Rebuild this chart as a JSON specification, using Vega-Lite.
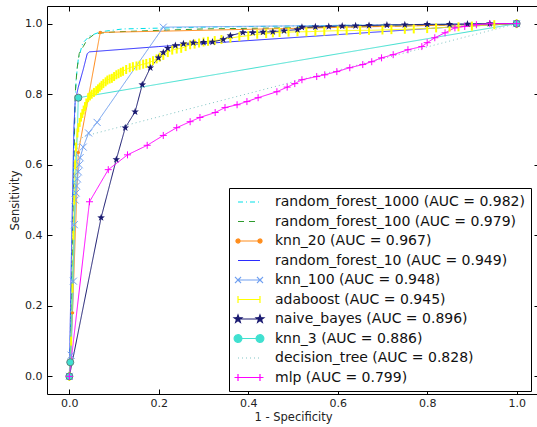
{
"$schema":"https://vega.github.io/schema/vega-lite/v6.json",
"width":492,"height":388,
"autosize":{"type":"none"},
"padding":{"left":47,"top":6,"right":0,"bottom":33},
"background":"white",
"config":{"view":{"stroke":null},"font":"DejaVu Sans",
 "axis":{"grid":false,"domainColor":"#000","tickColor":"#000","tickSize":-5,"labelFont":"DejaVu Sans","labelFontSize":11,"labelColor":"#222","titleFont":"DejaVu Sans","titleFontSize":11.5,"titleFontWeight":"normal","titleColor":"#222"},
 "legend":{"orient":"none","legendX":182,"legendY":182,"strokeColor":"black","fillColor":"white","padding":6,"labelFont":"DejaVu Sans","labelFontSize":14,"labelColor":"#111","labelLimit":0,"symbolSize":196,"symbolStrokeWidth":1.2,"rowPadding":4.5,"labelOffset":18,"symbolOffset":6,"symbolType":"M-1.57,0L1.57,0"}
},
"data":{"values":[
{"m":"rf1000","x":0,"y":0,"i":0},{"m":"rf1000","x":0.002,"y":0.1,"i":1},{"m":"rf1000","x":0.005,"y":0.3,"i":2},{"m":"rf1000","x":0.008,"y":0.5,"i":3},{"m":"rf1000","x":0.01,"y":0.65,"i":4},{"m":"rf1000","x":0.012,"y":0.75,"i":5},{"m":"rf1000","x":0.015,"y":0.84,"i":6},{"m":"rf1000","x":0.02,"y":0.9,"i":7},{"m":"rf1000","x":0.03,"y":0.945,"i":8},{"m":"rf1000","x":0.045,"y":0.965,"i":9},{"m":"rf1000","x":0.07,"y":0.977,"i":10},{"m":"rf1000","x":0.12,"y":0.985,"i":11},{"m":"rf1000","x":0.3,"y":0.99,"i":12},{"m":"rf1000","x":0.6,"y":0.995,"i":13},{"m":"rf1000","x":1,"y":1,"i":14},
{"m":"rf100","x":0,"y":0,"i":0},{"m":"rf100","x":0.003,"y":0.1,"i":1},{"m":"rf100","x":0.006,"y":0.3,"i":2},{"m":"rf100","x":0.009,"y":0.5,"i":3},{"m":"rf100","x":0.011,"y":0.65,"i":4},{"m":"rf100","x":0.013,"y":0.8,"i":5},{"m":"rf100","x":0.017,"y":0.87,"i":6},{"m":"rf100","x":0.022,"y":0.915,"i":7},{"m":"rf100","x":0.031,"y":0.935,"i":8},{"m":"rf100","x":0.04,"y":0.955,"i":9},{"m":"rf100","x":0.058,"y":0.972,"i":10},{"m":"rf100","x":0.107,"y":0.977,"i":11},{"m":"rf100","x":0.3,"y":0.985,"i":12},{"m":"rf100","x":0.6,"y":0.99,"i":13},{"m":"rf100","x":1,"y":1,"i":14},
{"m":"knn20","x":0,"y":0,"i":0},{"m":"knn20","x":0.007,"y":0.18,"i":1},{"m":"knn20","x":0.02,"y":0.635,"i":2},{"m":"knn20","x":0.069,"y":0.975,"i":3},{"m":"knn20","x":1,"y":1,"i":4},
{"m":"rf10","x":0,"y":0,"i":0},{"m":"rf10","x":0.004,"y":0.3,"i":1},{"m":"rf10","x":0.007,"y":0.5,"i":2},{"m":"rf10","x":0.01,"y":0.7,"i":3},{"m":"rf10","x":0.013,"y":0.78,"i":4},{"m":"rf10","x":0.02,"y":0.82,"i":5},{"m":"rf10","x":0.031,"y":0.87,"i":6},{"m":"rf10","x":0.04,"y":0.915,"i":7},{"m":"rf10","x":0.045,"y":0.92,"i":8},{"m":"rf10","x":0.2,"y":0.935,"i":9},{"m":"rf10","x":0.85,"y":0.99,"i":10},{"m":"rf10","x":1,"y":1,"i":11},
{"m":"knn100","x":0,"y":0,"i":0},{"m":"knn100","x":0.004,"y":0.06,"i":1},{"m":"knn100","x":0.009,"y":0.27,"i":2},{"m":"knn100","x":0.011,"y":0.43,"i":3},{"m":"knn100","x":0.013,"y":0.5,"i":4},{"m":"knn100","x":0.015,"y":0.52,"i":5},{"m":"knn100","x":0.016,"y":0.54,"i":6},{"m":"knn100","x":0.018,"y":0.56,"i":7},{"m":"knn100","x":0.02,"y":0.58,"i":8},{"m":"knn100","x":0.022,"y":0.6,"i":9},{"m":"knn100","x":0.024,"y":0.62,"i":10},{"m":"knn100","x":0.031,"y":0.65,"i":11},{"m":"knn100","x":0.043,"y":0.69,"i":12},{"m":"knn100","x":0.062,"y":0.72,"i":13},{"m":"knn100","x":0.21,"y":0.99,"i":14},{"m":"knn100","x":1,"y":1,"i":15},
{"m":"ada","x":0,"y":0,"i":0},{"m":"ada","x":0.004,"y":0.1,"i":1},{"m":"ada","x":0.007,"y":0.25,"i":2},{"m":"ada","x":0.009,"y":0.4,"i":3},{"m":"ada","x":0.011,"y":0.5,"i":4},{"m":"ada","x":0.013,"y":0.6,"i":5},{"m":"ada","x":0.015,"y":0.65,"i":6},{"m":"ada","x":0.018,"y":0.69,"i":7},{"m":"ada","x":0.02,"y":0.705,"i":8},{"m":"ada","x":0.023,"y":0.72,"i":9},{"m":"ada","x":0.026,"y":0.735,"i":10},{"m":"ada","x":0.029,"y":0.745,"i":11},{"m":"ada","x":0.032,"y":0.755,"i":12},{"m":"ada","x":0.035,"y":0.765,"i":13},{"m":"ada","x":0.038,"y":0.775,"i":14},{"m":"ada","x":0.042,"y":0.79,"i":15},{"m":"ada","x":0.046,"y":0.795,"i":16},{"m":"ada","x":0.05,"y":0.8,"i":17},{"m":"ada","x":0.055,"y":0.805,"i":18},{"m":"ada","x":0.06,"y":0.81,"i":19},{"m":"ada","x":0.064,"y":0.815,"i":20},{"m":"ada","x":0.068,"y":0.82,"i":21},{"m":"ada","x":0.072,"y":0.825,"i":22},{"m":"ada","x":0.076,"y":0.83,"i":23},{"m":"ada","x":0.081,"y":0.835,"i":24},{"m":"ada","x":0.085,"y":0.84,"i":25},{"m":"ada","x":0.09,"y":0.843,"i":26},{"m":"ada","x":0.095,"y":0.845,"i":27},{"m":"ada","x":0.1,"y":0.85,"i":28},{"m":"ada","x":0.105,"y":0.855,"i":29},{"m":"ada","x":0.11,"y":0.858,"i":30},{"m":"ada","x":0.115,"y":0.862,"i":31},{"m":"ada","x":0.12,"y":0.865,"i":32},{"m":"ada","x":0.127,"y":0.87,"i":33},{"m":"ada","x":0.135,"y":0.875,"i":34},{"m":"ada","x":0.142,"y":0.878,"i":35},{"m":"ada","x":0.15,"y":0.88,"i":36},{"m":"ada","x":0.157,"y":0.882,"i":37},{"m":"ada","x":0.165,"y":0.885,"i":38},{"m":"ada","x":0.172,"y":0.887,"i":39},{"m":"ada","x":0.18,"y":0.89,"i":40},{"m":"ada","x":0.187,"y":0.895,"i":41},{"m":"ada","x":0.195,"y":0.9,"i":42},{"m":"ada","x":0.202,"y":0.905,"i":43},{"m":"ada","x":0.21,"y":0.91,"i":44},{"m":"ada","x":0.22,"y":0.918,"i":45},{"m":"ada","x":0.23,"y":0.925,"i":46},{"m":"ada","x":0.24,"y":0.928,"i":47},{"m":"ada","x":0.25,"y":0.93,"i":48},{"m":"ada","x":0.26,"y":0.935,"i":49},{"m":"ada","x":0.27,"y":0.94,"i":50},{"m":"ada","x":0.28,"y":0.942,"i":51},{"m":"ada","x":0.29,"y":0.945,"i":52},{"m":"ada","x":0.3,"y":0.948,"i":53},{"m":"ada","x":0.31,"y":0.95,"i":54},{"m":"ada","x":0.325,"y":0.952,"i":55},{"m":"ada","x":0.34,"y":0.955,"i":56},{"m":"ada","x":0.36,"y":0.959,"i":57},{"m":"ada","x":0.38,"y":0.963,"i":58},{"m":"ada","x":0.4,"y":0.966,"i":59},{"m":"ada","x":0.42,"y":0.97,"i":60},{"m":"ada","x":0.44,"y":0.972,"i":61},{"m":"ada","x":0.455,"y":0.974,"i":62},{"m":"ada","x":0.47,"y":0.975,"i":63},{"m":"ada","x":0.49,"y":0.976,"i":64},{"m":"ada","x":0.51,"y":0.977,"i":65},{"m":"ada","x":0.53,"y":0.977,"i":66},{"m":"ada","x":0.55,"y":0.978,"i":67},{"m":"ada","x":0.57,"y":0.979,"i":68},{"m":"ada","x":0.6,"y":0.98,"i":69},{"m":"ada","x":0.62,"y":0.98,"i":70},{"m":"ada","x":0.65,"y":0.981,"i":71},{"m":"ada","x":0.67,"y":0.981,"i":72},{"m":"ada","x":0.7,"y":0.982,"i":73},{"m":"ada","x":0.72,"y":0.983,"i":74},{"m":"ada","x":0.75,"y":0.984,"i":75},{"m":"ada","x":0.77,"y":0.985,"i":76},{"m":"ada","x":0.8,"y":0.986,"i":77},{"m":"ada","x":0.82,"y":0.988,"i":78},{"m":"ada","x":0.85,"y":0.99,"i":79},{"m":"ada","x":0.87,"y":0.991,"i":80},{"m":"ada","x":0.9,"y":0.993,"i":81},{"m":"ada","x":0.95,"y":0.997,"i":82},{"m":"ada","x":1,"y":1,"i":83},
{"m":"nb","x":0,"y":0,"i":0},{"m":"nb","x":0.071,"y":0.45,"i":1},{"m":"nb","x":0.105,"y":0.615,"i":2},{"m":"nb","x":0.125,"y":0.705,"i":3},{"m":"nb","x":0.147,"y":0.75,"i":4},{"m":"nb","x":0.163,"y":0.827,"i":5},{"m":"nb","x":0.181,"y":0.875,"i":6},{"m":"nb","x":0.199,"y":0.903,"i":7},{"m":"nb","x":0.21,"y":0.918,"i":8},{"m":"nb","x":0.22,"y":0.93,"i":9},{"m":"nb","x":0.237,"y":0.938,"i":10},{"m":"nb","x":0.255,"y":0.943,"i":11},{"m":"nb","x":0.277,"y":0.946,"i":12},{"m":"nb","x":0.3,"y":0.947,"i":13},{"m":"nb","x":0.32,"y":0.948,"i":14},{"m":"nb","x":0.344,"y":0.955,"i":15},{"m":"nb","x":0.36,"y":0.966,"i":16},{"m":"nb","x":0.388,"y":0.975,"i":17},{"m":"nb","x":0.41,"y":0.975,"i":18},{"m":"nb","x":0.433,"y":0.976,"i":19},{"m":"nb","x":0.455,"y":0.977,"i":20},{"m":"nb","x":0.48,"y":0.98,"i":21},{"m":"nb","x":0.51,"y":0.983,"i":22},{"m":"nb","x":0.52,"y":0.99,"i":23},{"m":"nb","x":0.55,"y":0.991,"i":24},{"m":"nb","x":0.58,"y":0.992,"i":25},{"m":"nb","x":0.61,"y":0.993,"i":26},{"m":"nb","x":0.64,"y":0.994,"i":27},{"m":"nb","x":0.67,"y":0.995,"i":28},{"m":"nb","x":0.71,"y":0.996,"i":29},{"m":"nb","x":0.75,"y":0.997,"i":30},{"m":"nb","x":0.8,"y":0.998,"i":31},{"m":"nb","x":0.85,"y":0.998,"i":32},{"m":"nb","x":0.89,"y":0.999,"i":33},{"m":"nb","x":0.94,"y":1,"i":34},{"m":"nb","x":1,"y":1,"i":35},
{"m":"knn3","x":0,"y":0,"i":0},{"m":"knn3","x":0.002,"y":0.04,"i":1},{"m":"knn3","x":0.02,"y":0.79,"i":2},{"m":"knn3","x":1,"y":1,"i":3},
{"m":"dt","x":0,"y":0,"i":0},{"m":"dt","x":0.003,"y":0.2,"i":1},{"m":"dt","x":0.006,"y":0.4,"i":2},{"m":"dt","x":0.01,"y":0.6,"i":3},{"m":"dt","x":0.02,"y":0.66,"i":4},{"m":"dt","x":0.031,"y":0.68,"i":5},{"m":"dt","x":1,"y":1,"i":6},
{"m":"mlp","x":0,"y":0,"i":0},{"m":"mlp","x":0.045,"y":0.495,"i":1},{"m":"mlp","x":0.087,"y":0.586,"i":2},{"m":"mlp","x":0.13,"y":0.628,"i":3},{"m":"mlp","x":0.174,"y":0.655,"i":4},{"m":"mlp","x":0.21,"y":0.683,"i":5},{"m":"mlp","x":0.24,"y":0.705,"i":6},{"m":"mlp","x":0.27,"y":0.722,"i":7},{"m":"mlp","x":0.292,"y":0.734,"i":8},{"m":"mlp","x":0.326,"y":0.748,"i":9},{"m":"mlp","x":0.348,"y":0.762,"i":10},{"m":"mlp","x":0.375,"y":0.77,"i":11},{"m":"mlp","x":0.397,"y":0.779,"i":12},{"m":"mlp","x":0.422,"y":0.79,"i":13},{"m":"mlp","x":0.464,"y":0.807,"i":14},{"m":"mlp","x":0.487,"y":0.82,"i":15},{"m":"mlp","x":0.504,"y":0.83,"i":16},{"m":"mlp","x":0.52,"y":0.841,"i":17},{"m":"mlp","x":0.553,"y":0.85,"i":18},{"m":"mlp","x":0.571,"y":0.855,"i":19},{"m":"mlp","x":0.598,"y":0.864,"i":20},{"m":"mlp","x":0.627,"y":0.875,"i":21},{"m":"mlp","x":0.656,"y":0.884,"i":22},{"m":"mlp","x":0.676,"y":0.892,"i":23},{"m":"mlp","x":0.698,"y":0.903,"i":24},{"m":"mlp","x":0.724,"y":0.912,"i":25},{"m":"mlp","x":0.757,"y":0.926,"i":26},{"m":"mlp","x":0.788,"y":0.935,"i":27},{"m":"mlp","x":0.8,"y":0.946,"i":28},{"m":"mlp","x":0.817,"y":0.96,"i":29},{"m":"mlp","x":0.84,"y":0.974,"i":30},{"m":"mlp","x":0.862,"y":0.988,"i":31},{"m":"mlp","x":0.884,"y":0.992,"i":32},{"m":"mlp","x":0.91,"y":0.997,"i":33},{"m":"mlp","x":0.94,"y":1,"i":34},{"m":"mlp","x":1,"y":1,"i":35}
]},
"layer":[
{"mark":{"type":"line","strokeWidth":1},
 "encoding":{
  "x":{"field":"x","type":"quantitative","scale":{"domain":[-0.05,1.05],"nice":false,"zero":false},"axis":{"title":"1 - Specificity","values":[0,0.2,0.4,0.6,0.8,1],"format":".1f","labelPadding":8,"titlePadding":3}},
  "y":{"field":"y","type":"quantitative","scale":{"domain":[-0.05,1.05],"nice":false,"zero":false},"axis":{"title":"Sensitivity","values":[0,0.2,0.4,0.6,0.8,1],"format":".1f","labelPadding":10,"titlePadding":4}},
  "color":{"field":"m","type":"nominal","scale":{"domain":["rf1000","rf100","knn20","rf10","knn100","ada","nb","knn3","dt","mlp"],"range":["#00e0e8","#2e9b2e","#ff8c1a","#2b2bff","#6f9ff0","#ffff00","#191970","#40e0d0","#80c4c4","#ff00ff"]},
   "legend":{"title":null,
    "labelExpr":"['random_forest_1000 (AUC = 0.982)','random_forest_100 (AUC = 0.979)','knn_20 (AUC = 0.967)','random_forest_10 (AUC = 0.949)','knn_100 (AUC = 0.948)','adaboost (AUC = 0.945)','naive_bayes (AUC = 0.896)','knn_3 (AUC = 0.886)','decision_tree (AUC = 0.828)','mlp (AUC = 0.799)'][datum.index]",
    "encode":{"symbols":{"update":{
     "size":{"value":196},
     "shape":{"signal":"['M-1.57,0L1.57,0','M-1.57,0L1.57,0','M-1.57,0L1.57,0M-1.28,0A0.29,0.29 0 1,1 -1.86,0A0.29,0.29 0 1,1 -1.28,0ZM1.86,0A0.29,0.29 0 1,1 1.28,0A0.29,0.29 0 1,1 1.86,0Z','M-1.57,0L1.57,0','M-1.57,0L1.57,0M-2.0,-0.43L-1.14,0.43M-2.0,0.43L-1.14,-0.43M1.14,-0.43L2.0,0.43M1.14,0.43L2.0,-0.43','M-1.57,0L1.57,0M-1.57,-0.5L-1.57,0.5M1.57,-0.5L1.57,0.5','M-1.57,0L1.57,0M-1.57,-0.57L-1.435,-0.186L-1.028,-0.176L-1.351,0.071L-1.235,0.461L-1.57,0.23L-1.905,0.461L-1.789,0.071L-2.112,-0.176L-1.705,-0.186ZM1.57,-0.57L1.705,-0.186L2.112,-0.176L1.789,0.071L1.905,0.461L1.57,0.23L1.235,0.461L1.351,0.071L1.028,-0.176L1.435,-0.186Z','M-1.57,0L1.57,0M-1.02,0A0.55,0.55 0 1,1 -2.12,0A0.55,0.55 0 1,1 -1.02,0ZM2.12,0A0.55,0.55 0 1,1 1.02,0A0.55,0.55 0 1,1 2.12,0Z','M-1.57,0L1.57,0','M-2.07,0L2.07,0M-1.57,-0.5L-1.57,0.5M1.57,-0.5L1.57,0.5'][datum.index]"},
     "fill":{"signal":"['transparent','transparent','#ff8c1a','transparent','transparent','transparent','#191970','#40e0d0','transparent','transparent'][datum.index]"}
    }}}}},
  "strokeDash":{"field":"m","type":"nominal","scale":{"domain":["rf1000","rf100","knn20","rf10","knn100","ada","nb","knn3","dt","mlp"],"range":[[5,3,1,3],[6,5],[1,0],[1,0],[1,0],[1,0],[1,0],[1,0],[1,3],[1,0]]},"legend":{"title":null}},
  "order":{"field":"i","type":"quantitative"}
 }},
{"transform":[{"filter":"datum.m==='knn20'"}],"mark":{"type":"point","filled":true,"size":12,"color":"#ff8c1a","opacity":1},
 "encoding":{"x":{"field":"x","type":"quantitative","axis":null},"y":{"field":"y","type":"quantitative","axis":null}}},
{"transform":[{"filter":"datum.m==='knn100'"}],"mark":{"type":"point","filled":false,"size":49,"shape":"M-1,-1L1,1M-1,1L1,-1","stroke":"#6f9ff0","strokeWidth":1,"opacity":1},
 "encoding":{"x":{"field":"x","type":"quantitative","axis":null},"y":{"field":"y","type":"quantitative","axis":null}}},
{"transform":[{"filter":"datum.m==='ada'"}],"mark":{"type":"point","filled":false,"size":81,"shape":"M0,-1L0,1","stroke":"#ffff00","strokeWidth":2,"opacity":1},
 "encoding":{"x":{"field":"x","type":"quantitative","axis":null},"y":{"field":"y","type":"quantitative","axis":null}}},
{"transform":[{"filter":"datum.m==='nb'"}],"mark":{"type":"point","filled":true,"size":64,"shape":"M0,-1L0.235,-0.324L0.951,-0.309L0.38,0.124L0.588,0.809L0,0.4L-0.588,0.809L-0.38,0.124L-0.951,-0.309L-0.235,-0.324Z","color":"#191970","opacity":1},
 "encoding":{"x":{"field":"x","type":"quantitative","axis":null},"y":{"field":"y","type":"quantitative","axis":null}}},
{"transform":[{"filter":"datum.m==='knn3'"}],"mark":{"type":"point","filled":true,"size":50,"shape":"circle","fill":"#40e0d0","stroke":"#5f8080","strokeWidth":1,"opacity":1},
 "encoding":{"x":{"field":"x","type":"quantitative","axis":null},"y":{"field":"y","type":"quantitative","axis":null}}},
{"transform":[{"filter":"datum.m==='mlp'"}],"mark":{"type":"point","filled":false,"size":49,"shape":"M-1,0L1,0M0,-1L0,1","stroke":"#ff00ff","strokeWidth":1,"opacity":1},
 "encoding":{"x":{"field":"x","type":"quantitative","axis":null},"y":{"field":"y","type":"quantitative","axis":null}}},
{"mark":{"type":"line","opacity":0},
 "encoding":{"x":{"field":"x","type":"quantitative","axis":{"orient":"top","labels":false,"title":null,"values":[0,0.2,0.4,0.6,0.8,1]}},"y":{"field":"y","type":"quantitative","axis":{"orient":"right","labels":false,"title":null,"values":[0,0.2,0.4,0.6,0.8,1]}},"detail":{"field":"m"}}}
],
"resolve":{"axis":{"x":"independent","y":"independent"}}
}
